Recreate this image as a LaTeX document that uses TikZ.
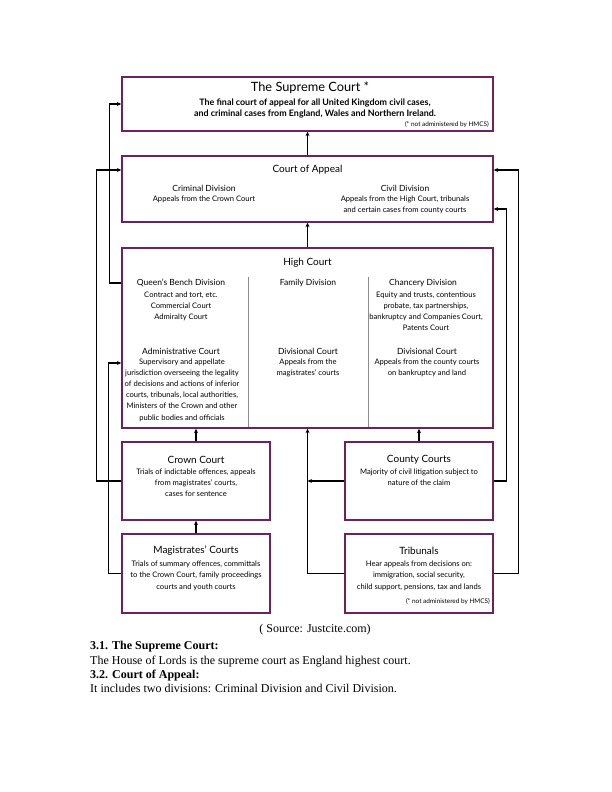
\documentclass[tikz,border=0pt]{standalone}
\usepackage{fontspec}
\setmainfont{Liberation Serif}
\newfontfamily\dfont{Lato}
\usetikzlibrary{arrows.meta,calc}
\definecolor{plum}{RGB}{108,34,92}
\tikzset{
  box/.style={draw=plum,line width=1.4pt,fill=white,inner sep=0pt,rectangle},
  conn/.style={draw=black,line width=1.3pt},
  arr/.style={conn,-{Stealth[length=4.5pt,width=4pt]}},
  title/.style={font=\dfont\fontsize{10}{12}\selectfont,inner sep=0pt,align=center},
  subtitle/.style={font=\dfont\fontsize{8.5}{11}\selectfont,inner sep=0pt,align=center},
  body/.style={font=\dfont\fontsize{7.6}{11}\selectfont,inner sep=0pt,align=center},
  note/.style={font=\dfont\fontsize{6.4}{7}\selectfont,inner sep=0pt,anchor=east},
  divider/.style={draw=black!45,line width=0.5pt},
  ptext/.style={font=\fontsize{12}{14}\selectfont,inner sep=0pt,anchor=base west}
}
\begin{document}
\begin{tikzpicture}[x=1pt,y=-1pt]
\useasboundingbox (0,0) rectangle (612,792);
% boxes
\node[box,minimum width=371pt,minimum height=54pt] (sup) at (307.5,104) {};
\node[box,minimum width=371pt,minimum height=66pt] (coa) at (307.5,189) {};
\node[box,minimum width=371pt,minimum height=180pt] (hc) at (307.5,338) {};
\node[box,minimum width=148pt,minimum height=78pt] (crown) at (196,481) {};
\node[box,minimum width=148pt,minimum height=78pt] (county) at (419,481) {};
\node[box,minimum width=148pt,minimum height=79pt] (mag) at (196,573.5) {};
\node[box,minimum width=148pt,minimum height=79pt] (trib) at (419,573.5) {};
% high court dividers
\draw[divider] (248,277) -- (248,427.3);
\draw[divider] (368,277) -- (368,427.3);
% supreme court text
\node[title,font=\dfont\fontsize{12.8}{14}\selectfont] (supT) at (310,88) {The Supreme Court *};
\node[body,font=\dfont\bfseries\fontsize{8.9}{11}\selectfont] (supB) at (315,108.5) {The final court of appeal for all United Kingdom civil cases,\\and criminal cases from England, Wales and Northern Ireland.};
\node[note] (supN) at (489,125) {(* not administered by HMCS)};
% court of appeal
\node[title] (coaT) at (307.5,170) {Court of Appeal};
\node[subtitle] (crimT) at (204,188) {Criminal Division};
\node[body] (crimB) at (204,199) {Appeals from the Crown Court};
\node[subtitle] (civT) at (405,188) {Civil Division};
\node[body] (civB) at (405,204.5) {Appeals from the High Court, tribunals\\and certain cases from county courts};
% high court
\node[title] (hcT) at (307.5,263) {High Court};
\node[subtitle] (qbdT) at (181,283) {Queen’s Bench Division};
\node[body] (qbdB) at (181,306) {Contract and tort, etc.\\Commercial Court\\Admiralty Court};
\node[subtitle] (famT) at (308,283) {Family Division};
\node[subtitle] (chT) at (423,283) {Chancery Division};
\node[body] (chB) at (426,311.5) {Equity and trusts, contentious\\probate, tax partnerships,\\bankruptcy and Companies Court,\\Patents Court};
\node[subtitle] (admT) at (181,351) {Administrative Court};
\node[body,font=\dfont\fontsize{7.6}{11.2}\selectfont] (admB) at (182,390) {Supervisory and appellate\\jurisdiction overseeing the legality\\of decisions and actions of inferior\\courts, tribunals, local authorities,\\Ministers of the Crown and other\\public bodies and officials};
\node[subtitle] (dv1T) at (308,351) {Divisional Court};
\node[body] (dv1B) at (308,368) {Appeals from the\\magistrates’ courts};
\node[subtitle] (dv2T) at (427,351) {Divisional Court};
\node[body] (dv2B) at (427,368) {Appeals from the county courts\\on bankruptcy and land};
% crown & county
\node[title] (crT) at (196,460) {Crown Court};
\node[body] (crB) at (196,483) {Trials of indictable offences, appeals\\from magistrates’ courts,\\cases for sentence};
\node[title] (cuT) at (419,460) {County Courts};
\node[body] (cuB) at (419,477.5) {Majority of civil litigation subject to\\nature of the claim};
% magistrates & tribunals
\node[title] (mgT) at (196,551) {Magistrates’ Courts};
\node[body,font=\dfont\fontsize{7.6}{11.5}\selectfont] (mgB) at (196,575.5) {Trials of summary offences, committals\\to the Crown Court, family proceedings\\courts and youth courts};
\node[title] (trT) at (419,551) {Tribunals};
\node[body,font=\dfont\fontsize{7.6}{11.5}\selectfont] (trB) at (419,575.5) {Hear appeals from decisions on:\\immigration, social security,\\child support, pensions, tax and lands};
\node[note] (trN) at (490,602) {(* not administered by HMCS)};
% coordinates for entry points
\coordinate (hcAdm) at ($(hc.west)+(0,25)$);
\coordinate (coaCiv) at ($(coa.east)+(0,20)$);
% connectors
\draw[arr] (coa.north) -- (sup.south);
\draw[arr] (hc.north) -- (coa.south);
\draw[arr] (qbdT -| hc.west) -- ++(-12,0) |- (sup.west);
\draw[arr] (crown.west) -- ++(-25,0) |- (coaT -| coa.west);
\draw[arr] (mag.west) -- ++(-13,0) |- (hcAdm);
\draw[arr] (crown.north) -- (crown.north |- hc.south);
\draw[arr] (county.north) -- (county.north |- hc.south);
\draw[arr] (trib.west) -| (hc.south);
\draw[arr] (county.west) -- (hc.south |- county.west);
\draw[arr] (mag.north) -- (crown.south);
\draw[arr] (trib.east) -- ++(25,0) |- (coaT -| coa.east);
\draw[arr] (county.east) -- ++(13,0) |- (coaCiv);
% page text
\node[font=\fontsize{12}{14}\selectfont,inner sep=0pt] (src) at (315,630) {( Source: Justcite.com)};
\node[ptext,font=\bfseries\fontsize{12}{14}\selectfont] (h1) at (90,649) {3.1. The Supreme Court:};
\node[ptext] (p1) at (90,664) {The House of Lords is the supreme court as England highest court.};
\node[ptext,font=\bfseries\fontsize{12}{14}\selectfont] (h2) at (90,678) {3.2. Court of Appeal:};
\node[ptext] (p2) at (90,692) {It includes two divisions: Criminal Division and Civil Division.};
\end{tikzpicture}
\end{document}
